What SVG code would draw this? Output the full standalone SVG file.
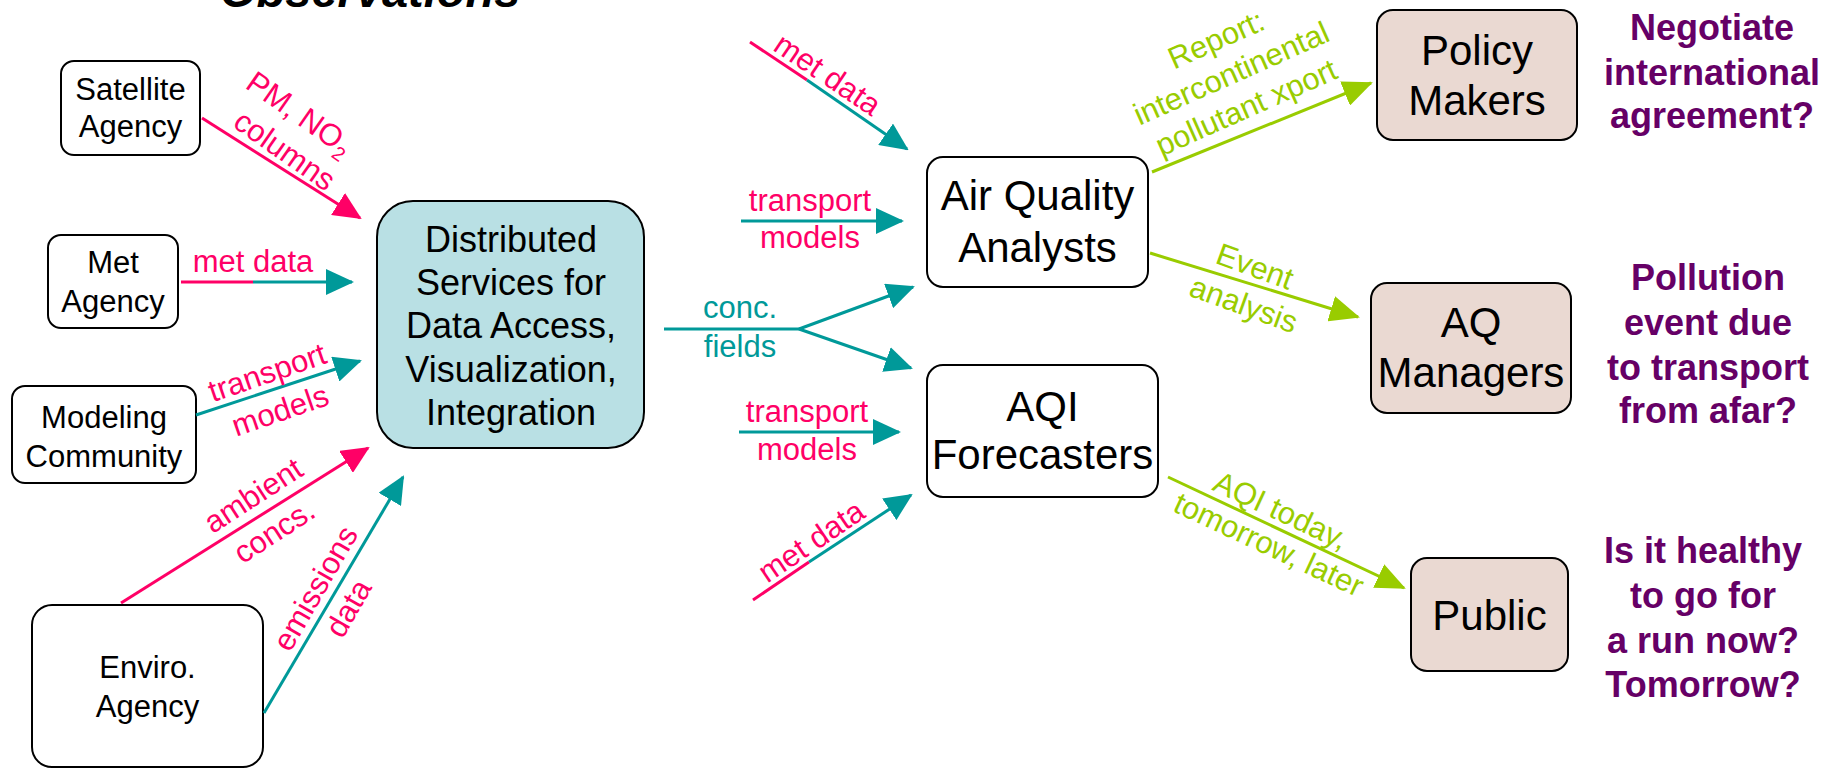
<svg xmlns="http://www.w3.org/2000/svg" width="1844" height="768" viewBox="0 0 1844 768">
  <defs>
    <marker id="ah-pink" markerWidth="28" markerHeight="26" refX="26" refY="13" orient="auto" markerUnits="userSpaceOnUse">
      <path d="M0,0 L28,13 L0,26 z" fill="#ff0066"/>
    </marker>
    <marker id="ah-teal" markerWidth="28" markerHeight="26" refX="26" refY="13" orient="auto" markerUnits="userSpaceOnUse">
      <path d="M0,0 L28,13 L0,26 z" fill="#009999"/>
    </marker>
    <marker id="ah-green" markerWidth="30" markerHeight="26" refX="28" refY="13" orient="auto" markerUnits="userSpaceOnUse">
      <path d="M0,0 L30,13 L0,26 z" fill="#99cc00"/>
    </marker>
  </defs>
  <style>
    .box { fill: #ffffff; stroke: #000000; stroke-width: 2; }
    .hub { fill: #b9e0e4; stroke: #000000; stroke-width: 2; }
    .user { fill: #ead9d2; stroke: #000000; stroke-width: 2; }
    .t31 { font-family: "Liberation Sans", Arial, sans-serif; font-size: 31px; fill: #000; text-anchor: middle; }
    .t36 { font-family: "Liberation Sans", Arial, sans-serif; font-size: 36px; fill: #000; text-anchor: middle; }
    .t42 { font-family: "Liberation Sans", Arial, sans-serif; font-size: 42px; fill: #000; text-anchor: middle; }
    .q { font-family: "Liberation Sans", Arial, sans-serif; font-size: 36px; font-weight: bold; fill: #660066; text-anchor: middle; }
    .lbl { font-family: "Liberation Sans", Arial, sans-serif; font-size: 31px; text-anchor: middle; }
    .pk { fill: #ff0066; }
    .tl { fill: #009999; }
    .gr { fill: #99cc00; }
    .lp { stroke: #ff0066; stroke-width: 3; fill: none; }
    .lt { stroke: #009999; stroke-width: 3; fill: none; }
    .lg { stroke: #99cc00; stroke-width: 3; fill: none; }
  </style>
  <rect width="1844" height="768" fill="#ffffff"/>

  <!-- heading, partly above the top edge -->
  <text x="220" y="7" font-family="Liberation Sans, Arial, sans-serif" font-size="47" font-weight="bold" font-style="italic" fill="#000">Observations</text>

  <!-- data providers -->
  <g id="satellite-agency">
    <rect class="box" x="61" y="61" width="139" height="94" rx="13"/>
    <text class="t31" x="130.5" y="100">Satellite</text>
    <text class="t31" x="130.5" y="137">Agency</text>
  </g>
  <g id="met-agency">
    <rect class="box" x="48" y="235" width="130" height="93" rx="13"/>
    <text class="t31" x="113" y="273">Met</text>
    <text class="t31" x="113" y="312">Agency</text>
  </g>
  <g id="modeling-community">
    <rect class="box" x="12" y="386" width="184" height="97" rx="13"/>
    <text class="t31" x="104" y="428">Modeling</text>
    <text class="t31" x="104" y="467">Community</text>
  </g>
  <g id="enviro-agency">
    <rect class="box" x="32" y="605" width="231" height="162" rx="20"/>
    <text class="t31" x="147.5" y="678">Enviro.</text>
    <text class="t31" x="147.5" y="717">Agency</text>
  </g>

  <!-- central services -->
  <g id="distributed-services">
    <rect class="hub" x="377" y="201" width="267" height="247" rx="36"/>
    <text class="t36" x="511" y="252">Distributed</text>
    <text class="t36" x="511" y="295">Services for</text>
    <text class="t36" x="511" y="338">Data Access,</text>
    <text class="t36" x="511" y="382">Visualization,</text>
    <text class="t36" x="511" y="425">Integration</text>
  </g>

  <!-- analysts -->
  <g id="aq-analysts">
    <rect class="box" x="927" y="157" width="221" height="130" rx="16"/>
    <text class="t42" x="1037.5" y="210">Air Quality</text>
    <text class="t42" x="1037.5" y="262">Analysts</text>
  </g>
  <g id="aqi-forecasters">
    <rect class="box" x="927" y="365" width="231" height="132" rx="16"/>
    <text class="t42" x="1042.5" y="421">AQI</text>
    <text class="t42" x="1042.5" y="469">Forecasters</text>
  </g>

  <!-- end users -->
  <g id="policy-makers">
    <rect class="user" x="1377" y="10" width="200" height="130" rx="16"/>
    <text class="t42" x="1477" y="65">Policy</text>
    <text class="t42" x="1477" y="115">Makers</text>
  </g>
  <g id="aq-managers">
    <rect class="user" x="1371" y="283" width="200" height="130" rx="16"/>
    <text class="t42" x="1471" y="337">AQ</text>
    <text class="t42" x="1471" y="387">Managers</text>
  </g>
  <g id="public">
    <rect class="user" x="1411" y="558" width="157" height="113" rx="16"/>
    <text class="t42" x="1489.5" y="630">Public</text>
  </g>

  <!-- questions asked by each user group -->
  <g id="q-policy">
    <text class="q" x="1712" y="40">Negotiate</text>
    <text class="q" x="1712" y="85">international</text>
    <text class="q" x="1712" y="128">agreement?</text>
  </g>
  <g id="q-managers">
    <text class="q" x="1708" y="290">Pollution</text>
    <text class="q" x="1708" y="335">event due</text>
    <text class="q" x="1708" y="380">to transport</text>
    <text class="q" x="1708" y="423">from afar?</text>
  </g>
  <g id="q-public">
    <text class="q" x="1703" y="563">Is it healthy</text>
    <text class="q" x="1703" y="608">to go for</text>
    <text class="q" x="1703" y="653">a run now?</text>
    <text class="q" x="1703" y="697">Tomorrow?</text>
  </g>

  <!-- connectors -->
  <g id="connectors">
    <!-- providers into services -->
    <line class="lp" x1="202" y1="118" x2="360" y2="218" marker-end="url(#ah-pink)"/>
    <line class="lp" x1="181" y1="282" x2="253" y2="282"/>
    <line class="lt" x1="253" y1="282" x2="352" y2="282" marker-end="url(#ah-teal)"/>
    <line class="lt" x1="196" y1="415" x2="360" y2="361" marker-end="url(#ah-teal)"/>
    <line class="lp" x1="121" y1="603" x2="368" y2="448" marker-end="url(#ah-pink)"/>
    <line class="lt" x1="264" y1="713" x2="403" y2="477" marker-end="url(#ah-teal)"/>

    <!-- inputs to analysts and forecasters -->
    <line class="lp" x1="750" y1="42" x2="807" y2="80"/>
    <line class="lt" x1="807" y1="80" x2="907" y2="149" marker-end="url(#ah-teal)"/>
    <line class="lt" x1="741" y1="221" x2="902" y2="221" marker-end="url(#ah-teal)"/>
    <line class="lt" x1="664" y1="329" x2="799" y2="329"/>
    <line class="lt" x1="799" y1="329" x2="913" y2="287" marker-end="url(#ah-teal)"/>
    <line class="lt" x1="799" y1="329" x2="911" y2="368" marker-end="url(#ah-teal)"/>
    <line class="lt" x1="739" y1="432" x2="899" y2="432" marker-end="url(#ah-teal)"/>
    <line class="lp" x1="753" y1="600" x2="809" y2="562"/>
    <line class="lt" x1="809" y1="562" x2="911" y2="495" marker-end="url(#ah-teal)"/>

    <!-- products to users -->
    <line class="lg" x1="1152" y1="172" x2="1371" y2="83" marker-end="url(#ah-green)"/>
    <line class="lg" x1="1150" y1="253" x2="1358" y2="317" marker-end="url(#ah-green)"/>
    <line class="lg" x1="1168" y1="477" x2="1404" y2="588" marker-end="url(#ah-green)"/>

    <!-- connector labels -->
    <g transform="translate(300,113) rotate(35)">
      <text class="lbl pk" x="0" y="11">PM, NO<tspan font-size="20" dy="7">2</tspan></text>
    </g>
    <g transform="translate(285,150) rotate(35)">
      <text class="lbl pk" x="0" y="11">columns</text>
    </g>
    <text class="lbl pk" x="253" y="272">met data</text>
    <g transform="translate(267,372) rotate(-19)">
      <text class="lbl pk" x="0" y="11">transport</text>
    </g>
    <g transform="translate(280,410) rotate(-19)">
      <text class="lbl pk" x="0" y="11">models</text>
    </g>
    <g transform="translate(253,495) rotate(-33)">
      <text class="lbl pk" x="0" y="11">ambient</text>
    </g>
    <g transform="translate(274,531) rotate(-33)">
      <text class="lbl pk" x="0" y="11">concs.</text>
    </g>
    <g transform="translate(315,588) rotate(-60)">
      <text class="lbl pk" x="0" y="11">emissions</text>
    </g>
    <g transform="translate(348,608) rotate(-60)">
      <text class="lbl pk" x="0" y="11">data</text>
    </g>

    <g transform="translate(828,74) rotate(34)">
      <text class="lbl pk" x="0" y="11">met data</text>
    </g>
    <text class="lbl pk" x="810" y="211">transport</text>
    <text class="lbl pk" x="810" y="248">models</text>
    <text class="lbl tl" x="740" y="318">conc.</text>
    <text class="lbl tl" x="740" y="357">fields</text>
    <text class="lbl pk" x="807" y="422">transport</text>
    <text class="lbl pk" x="807" y="460">models</text>
    <g transform="translate(811,541) rotate(-34)">
      <text class="lbl pk" x="0" y="11">met data</text>
    </g>

    <g transform="translate(1216,39) rotate(-24)">
      <text class="lbl gr" x="0" y="11">Report:</text>
    </g>
    <g transform="translate(1231,73) rotate(-24)">
      <text class="lbl gr" x="0" y="11">intercontinental</text>
    </g>
    <g transform="translate(1246,107) rotate(-24)">
      <text class="lbl gr" x="0" y="11">pollutant xport</text>
    </g>
    <g transform="translate(1255,266) rotate(20)">
      <text class="lbl gr" x="0" y="11">Event</text>
    </g>
    <g transform="translate(1244,304) rotate(20)">
      <text class="lbl gr" x="0" y="11">analysis</text>
    </g>
    <g transform="translate(1281,510) rotate(25)">
      <text class="lbl gr" x="0" y="11">AQI today,</text>
    </g>
    <g transform="translate(1269,544) rotate(25)">
      <text class="lbl gr" x="0" y="11">tomorrow, later</text>
    </g>
  </g>
</svg>
